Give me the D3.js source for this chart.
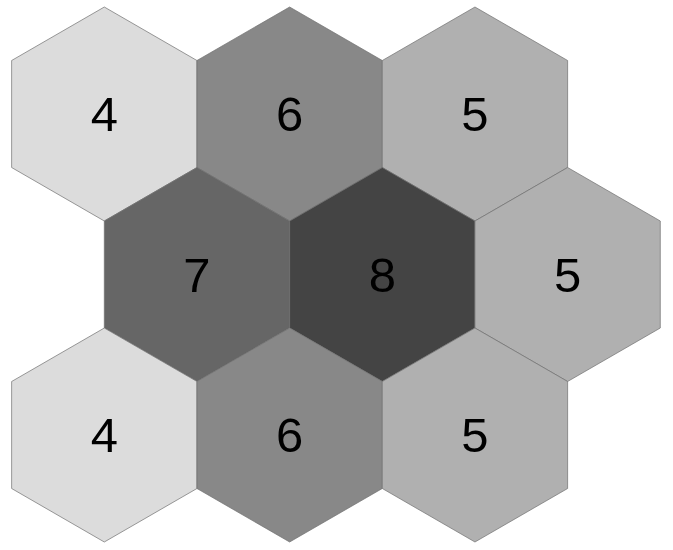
<!DOCTYPE html>
<html>
<head>
<meta charset="utf-8">
<script src="https://cdn.jsdelivr.net/npm/d3@7"></script>
<style>
  html, body { margin: 0; padding: 0; background: #ffffff; }
  svg { display: block; }
</style>
</head>
<body>
<svg id="chart" width="673" height="550"></svg>
<script>
// Data
const rowIndex = [0, 0, 0, 1, 1, 1, 2, 2, 2];
const colIndex = [0, 1, 2, 0, 1, 2, 0, 1, 2];
const counts   = [4, 6, 5, 7, 8, 5, 4, 6, 5];
const countLevels = [4, 5, 6, 7, 8];
const levelColors = ['#dcdcdc', '#b0b0b0', '#888888', '#666666', '#444444'];

const W = 673, H = 550;
const R = 107;                 // hex radius
const hexW = Math.sqrt(3) * R; // hex width

const svg = d3.select('#chart');

// column position (odd rows shifted half a hex)
const x = d3.scaleLinear().domain([0, 1]).range([104.3, 104.3 + hexW]);
const y = d3.scaleLinear().domain([0, 1]).range([114, 114 + 1.5 * R]);
const color = d3.scaleOrdinal().domain(countLevels).range(levelColors);

const cells = counts.map((v, i) => ({
  row: rowIndex[i],
  col: colIndex[i] + (rowIndex[i] % 2 ? 0.5 : 0),
  value: v
}));

const corners = d3.range(6).map(k => {
  const a = Math.PI / 3 * k - Math.PI / 2; // pointy-top
  return [R * Math.cos(a), R * Math.sin(a)];
});
const hexPath = d3.line().curve(d3.curveLinearClosed)(corners);

const g = svg.append('g');

const cell = g.selectAll('g.cell')
  .data(cells)
  .join('g')
  .attr('class', 'cell')
  .attr('transform', d => `translate(${x(d.col)},${y(d.row)})`);

cell.append('path')
  .attr('d', hexPath)
  .attr('fill', d => color(d.value))
  .attr('stroke', '#707070')
  .attr('stroke-width', 0.7);

cell.append('text')
  .attr('text-anchor', 'middle')
  .attr('y', 17)
  .attr('font-family', '"Liberation Sans", Arial, sans-serif')
  .attr('font-size', 49)
  .attr('fill', '#000000')
  .text(d => d.value);
</script>
</body>
</html>
